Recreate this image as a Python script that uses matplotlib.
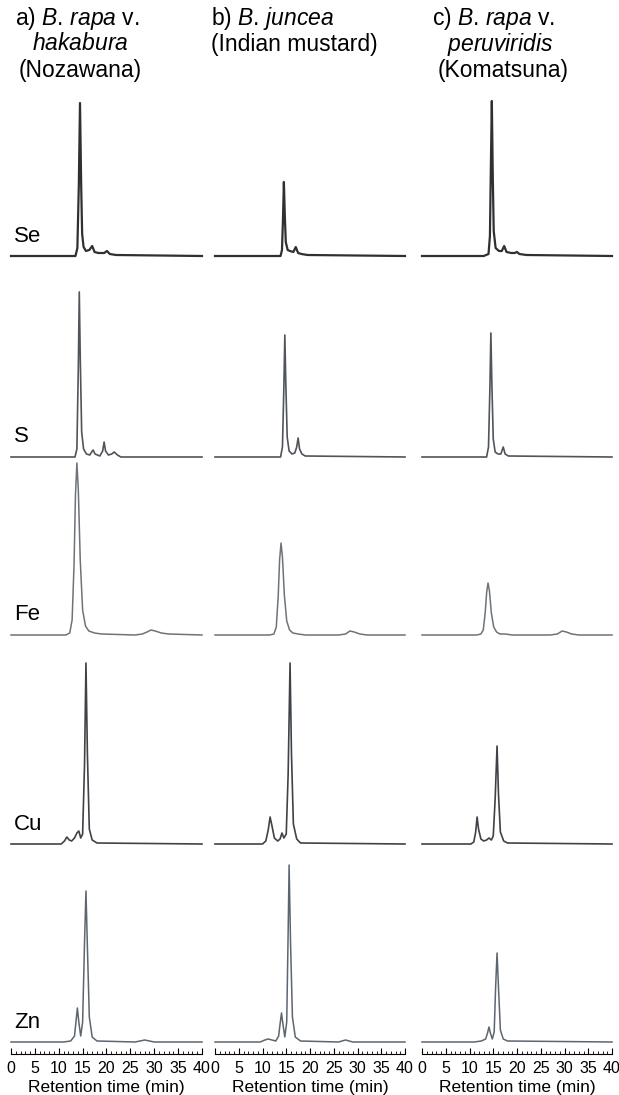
import matplotlib.pyplot as plt

plt.rcParams['font.family'] = ['Liberation Sans', 'DejaVu Sans']
plt.rcParams['mathtext.fontset'] = 'custom'
plt.rcParams['mathtext.rm'] = 'Liberation Sans'
plt.rcParams['mathtext.it'] = 'Liberation Sans:italic'

# retention time (min) and relative intensity (a.u.)
se_a_t = [0, 13.5, 13.9, 14.2, 14.45, 14.7, 14.9, 15.2, 15.7, 16.4, 17.0, 17.5, 18.3, 19.5, 20.1, 20.7, 22, 40]
se_a_y = [0, 0, 8, 70, 153, 70, 22, 9, 5, 6, 10, 4, 3, 3, 5, 2, 1, 0]
se_b_t = [0, 13.8, 14.1, 14.3, 14.5, 14.7, 14.9, 15.3, 15.8, 16.5, 17.0, 17.5, 18.2, 19.5, 40]
se_b_y = [0, 0, 6, 35, 74, 40, 14, 6, 5, 4, 9, 3, 2, 1, 0]
se_c_t = [0, 13.0, 14.0, 14.3, 14.5, 14.7, 14.9, 15.1, 15.5, 16.2, 16.8, 17.3, 17.8, 18.8, 19.5, 20.0, 20.5, 22, 40]
se_c_y = [0, 0, 2, 20, 90, 155, 80, 25, 8, 5, 5, 10, 4, 3, 3, 4, 2, 1, 0]

s_a_t = [0, 13.4, 13.8, 14.1, 14.3, 14.5, 14.8, 15.2, 15.8, 16.5, 16.9, 17.2, 17.6, 18.6, 19.2, 19.5, 19.8, 20.4, 21.1, 21.6, 22.3, 23, 40]
s_a_y = [0, 0, 8, 90, 165, 100, 25, 8, 3, 2, 5, 7, 3, 1, 6, 15, 6, 2, 3, 5, 2, 0, 0]
s_b_t = [0, 13.8, 14.2, 14.5, 14.7, 14.9, 15.2, 15.6, 16.2, 16.8, 17.2, 17.5, 17.8, 18.3, 19, 40]
s_b_y = [0, 0, 10, 70, 122, 75, 20, 6, 3, 4, 10, 19, 8, 3, 1, 0]
s_c_t = [0, 13.6, 14.0, 14.3, 14.5, 14.7, 15.0, 15.4, 16.0, 16.6, 17.1, 17.5, 18.2, 40]
s_c_y = [0, 0, 10, 70, 124, 75, 18, 5, 3, 3, 10, 3, 1, 0]

fe_a_t = [0, 11.5, 12.3, 12.8, 13.2, 13.5, 13.8, 14.1, 14.5, 15.0, 15.6, 16.3, 17.5, 19, 26, 27.5, 28.5, 29.3, 30.2, 31.5, 33, 40]
fe_a_y = [0, 0, 2, 15, 70, 140, 172, 145, 75, 25, 9, 4, 2, 1, 0, 1, 3, 5, 4, 2, 1, 0]
fe_b_t = [0, 11.5, 12.4, 12.9, 13.3, 13.6, 13.9, 14.2, 14.6, 15.1, 15.7, 16.4, 17.5, 19, 26, 27.5, 28.4, 29.3, 30.5, 32, 40]
fe_b_y = [0, 0, 1, 8, 38, 75, 92, 78, 40, 14, 5, 2, 1, 0, 0, 1, 4, 3, 1, 0, 0]
fe_c_t = [0, 11.5, 12.4, 12.9, 13.3, 13.6, 13.9, 14.2, 14.6, 15.1, 15.7, 16.4, 17.5, 19, 27, 28.5, 29.5, 30.4, 31.5, 33, 40]
fe_c_y = [0, 0, 1, 5, 22, 42, 52, 44, 22, 8, 3, 1, 1, 0, 0, 1, 4, 3, 1, 0, 0]

cu_a_t = [0, 10.5, 11.2, 11.7, 12.2, 12.7, 13.3, 13.8, 14.2, 14.6, 15.0, 15.4, 15.7, 16.0, 16.4, 17.0, 18, 40]
cu_a_y = [0, 0, 3, 7, 4, 3, 6, 11, 13, 6, 10, 80, 181, 90, 15, 4, 1, 0]
cu_b_t = [0, 10.0, 10.7, 11.2, 11.6, 12.0, 12.5, 13.2, 13.7, 14.1, 14.5, 15.0, 15.4, 15.8, 16.1, 16.5, 17.2, 18, 40]
cu_b_y = [0, 0, 3, 14, 27, 18, 6, 3, 5, 11, 6, 10, 70, 181, 90, 20, 5, 1, 0]
cu_c_t = [0, 10.3, 10.9, 11.3, 11.6, 11.9, 12.4, 13.0, 13.6, 14.1, 14.6, 15.0, 15.4, 15.8, 16.1, 16.5, 17.2, 18, 40]
cu_c_y = [0, 0, 2, 12, 27, 15, 5, 3, 4, 6, 4, 8, 45, 98, 50, 12, 3, 1, 0]

zn_a_t = [0, 11, 12.5, 13.3, 13.6, 13.9, 14.2, 14.6, 15.0, 15.4, 15.7, 16.0, 16.4, 17.0, 18, 26, 28, 30, 40]
zn_a_y = [0, 0, 1, 6, 20, 34, 20, 6, 20, 100, 151, 95, 25, 5, 1, 0, 2, 0, 0]
zn_b_t = [0, 9.5, 10.5, 11.2, 12, 12.8, 13.4, 13.7, 14.0, 14.3, 14.7, 15.1, 15.4, 15.6, 15.9, 16.3, 16.9, 18, 26, 27.5, 29, 40]
zn_b_y = [0, 0, 2, 3, 2, 1, 6, 18, 29, 18, 5, 20, 110, 177, 100, 25, 5, 1, 0, 2, 0, 0]
zn_c_t = [0, 11, 12.5, 13.4, 13.8, 14.1, 14.4, 14.8, 15.2, 15.5, 15.8, 16.1, 16.5, 17.1, 18, 40]
zn_c_y = [0, 0, 1, 3, 9, 15, 9, 3, 10, 55, 89, 55, 12, 3, 1, 0]

elements = ['Se', 'S', 'Fe', 'Cu', 'Zn']
traces = [
    [(se_a_t, se_a_y), (se_b_t, se_b_y), (se_c_t, se_c_y)],
    [(s_a_t, s_a_y), (s_b_t, s_b_y), (s_c_t, s_c_y)],
    [(fe_a_t, fe_a_y), (fe_b_t, fe_b_y), (fe_c_t, fe_c_y)],
    [(cu_a_t, cu_a_y), (cu_b_t, cu_b_y), (cu_c_t, cu_c_y)],
    [(zn_a_t, zn_a_y), (zn_b_t, zn_b_y), (zn_c_t, zn_c_y)],
]
line_colors = ['#2e3033', '#50555b', '#6e7378', '#3f4347', '#5d666f']
line_widths = [1.6, 1.2, 1.1, 1.2, 1.1]

W, H = 619, 1095
fig = plt.figure(figsize=(W / 100, H / 100), dpi=100)


def px_axes(left, right, bottom, top):
    return fig.add_axes([left / W, 1 - bottom / H, (right - left) / W, (bottom - top) / H])


col_x = [(11, 202), (215, 405), (422, 612)]
baselines = [256, 457, 635, 844, 1042]

for r, el in enumerate(elements):
    b = baselines[r]
    for c in range(3):
        ax = px_axes(col_x[c][0], col_x[c][1], b + 5, b - 190)
        t, y = traces[r][c]
        ax.plot(t, y, color=line_colors[r], lw=line_widths[r], clip_on=False)
        ax.set_xlim(0, 40)
        ax.set_ylim(-5, 190)
        ax.axis('off')
    fig.text(14 / W, 1 - (b - 20) / H, el, fontsize=16, ha='left', va='center')

# retention time axes
for c in range(3):
    ax = px_axes(col_x[c][0], col_x[c][1], 1054, 1050)
    ax.set_xlim(0, 40)
    ax.set_yticks([])
    for side in ['top', 'left', 'right']:
        ax.spines[side].set_visible(False)
    ax.spines['bottom'].set_linewidth(0.8)
    ax.set_xticks(range(0, 41, 5))
    ax.set_xticks(range(0, 41, 1), minor=True)
    ax.tick_params(axis='x', which='major', direction='in', length=4, width=0.8, labelsize=11.5, pad=5)
    ax.tick_params(axis='x', which='minor', direction='in', length=2.5, width=0.6)
    ax.patch.set_alpha(0)
    ax.set_xlabel('Retention time (min)', fontsize=12.5, labelpad=3)

# column titles (period kept outside mathtext to avoid its punctuation spacing)
fs = 16.5
fig.text(77 / W, 1 - 19 / H, r'a) $\it{B}$. $\it{rapa}$ v.', fontsize=fs, ha='center', va='center')
fig.text(80 / W, 1 - 44 / H, r'$\it{hakabura}$', fontsize=fs, ha='center', va='center')
fig.text(80 / W, 1 - 70 / H, '(Nozawana)', fontsize=fs, ha='center', va='center')
fig.text(211 / W, 1 - 19 / H, r'b) $\it{B}$. $\it{juncea}$', fontsize=fs, ha='left', va='center')
fig.text(211 / W, 1 - 44 / H, '(Indian mustard)', fontsize=fs, ha='left', va='center')
fig.text(494 / W, 1 - 19 / H, r'c) $\it{B}$. $\it{rapa}$ v.', fontsize=fs, ha='center', va='center')
fig.text(500 / W, 1 - 44 / H, r'$\it{peruviridis}$', fontsize=fs, ha='center', va='center')
fig.text(503 / W, 1 - 70 / H, '(Komatsuna)', fontsize=fs, ha='center', va='center')

fig.savefig('out.png', dpi=100)
